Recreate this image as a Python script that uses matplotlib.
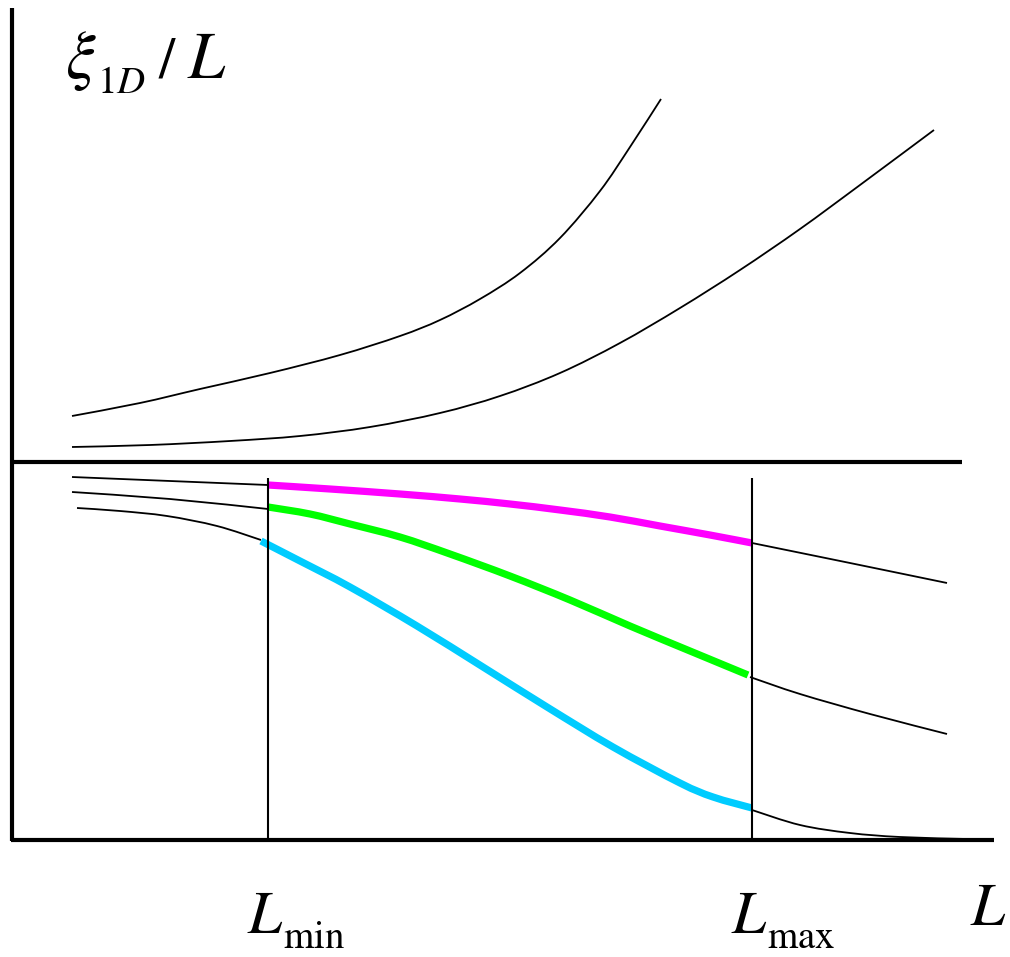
import matplotlib.pyplot as plt
import numpy as np
from matplotlib.path import Path
from matplotlib.patches import PathPatch

# schematic: xi_1D / L versus L (pixel-like units)
plt.rcParams["mathtext.fontset"] = "stix"

L_min = 268
L_max = 752

# upper branch (growing curves)
up1_x = [72, 140, 200, 270, 340, 400, 440, 480, 520, 560, 600, 630, 661]
up1_y = [416, 403, 389, 373, 355, 336, 320, 299, 273, 238, 191, 147, 99]
up2_x = [72, 150, 230, 300, 370, 440, 500, 560, 620, 680, 740, 800, 860, 934]
up2_y = [447, 445, 441, 436, 427, 413, 396, 373, 343, 308, 270, 229, 185, 130]

# lower branch, top curve (magenta in window)
lo1_pre_x = [72, 170, 268]
lo1_pre_y = [477, 481, 485]
lo1_x = [268, 330, 400, 460, 510, 560, 610, 660, 710, 752]
lo1_y = [485, 489, 494, 499, 504, 510, 517, 526, 535, 543]
lo1_post_x = [752, 850, 947]
lo1_post_y = [543, 563, 583]

# lower branch, middle curve (green in window)
lo2_pre_x = [72, 170, 268]
lo2_pre_y = [492, 499, 509]
lo2_x = [268, 310, 350, 400, 450, 510, 570, 630, 690, 748]
lo2_y = [507, 514, 524, 537, 554, 576, 600, 626, 651, 675]
lo2_post_x = [750, 800, 870, 947]
lo2_post_y = [677, 694, 714, 734]

# lower branch, bottom curve (cyan in window)
lo3_pre_x = [77, 120, 167, 217, 261]
lo3_pre_y = [508, 511, 516, 526, 540]
lo3_x = [261, 300, 350, 417, 483, 547, 613, 680, 713, 752]
lo3_y = [541, 561, 587, 626, 667, 707, 747, 783, 797, 808]
lo3_post_x = [752, 800, 850, 900, 967]
lo3_post_y = [810, 825, 833, 837, 839]


def smooth(ax, xs, ys, color, lw):
    # catmull-rom through the points, drawn as bezier path
    pts = np.column_stack([xs, ys]).astype(float)
    p = np.vstack([pts[0], pts, pts[-1]])
    verts = [pts[0]]
    codes = [Path.MOVETO]
    for i in range(1, len(p) - 2):
        p0, p1, p2, p3 = p[i - 1], p[i], p[i + 1], p[i + 2]
        verts += [p1 + (p2 - p0) / 6, p2 - (p3 - p1) / 6, p2]
        codes += [Path.CURVE4] * 3
    ax.add_patch(PathPatch(Path(verts, codes), fill=False, edgecolor=color,
                           lw=lw, capstyle="butt", joinstyle="round"))


fig = plt.figure(figsize=(10.1, 9.57), dpi=100)
ax = fig.add_axes([0, 0, 1, 1])
ax.set_xlim(0, 1010)
ax.set_ylim(957, 0)
ax.axis("off")

# frame
ax.plot([12, 12], [8, 841], color="black", lw=3, solid_capstyle="butt")
ax.plot([11, 994], [840, 840], color="black", lw=3, solid_capstyle="butt")
ax.plot([11, 962], [462, 462], color="black", lw=3, solid_capstyle="butt")
ax.plot([L_min, L_min], [478, 840], color="black", lw=1.5, solid_capstyle="butt")
ax.plot([L_max, L_max], [478, 840], color="black", lw=1.5, solid_capstyle="butt")

smooth(ax, up1_x, up1_y, "black", 1.3)
smooth(ax, up2_x, up2_y, "black", 1.3)

for px, py in [(lo1_pre_x, lo1_pre_y), (lo1_post_x, lo1_post_y),
               (lo2_pre_x, lo2_pre_y), (lo2_post_x, lo2_post_y),
               (lo3_pre_x, lo3_pre_y), (lo3_post_x, lo3_post_y)]:
    smooth(ax, px, py, "black", 1.3)

smooth(ax, lo1_x, lo1_y, "#ff00ff", 5.2)
smooth(ax, lo2_x, lo2_y, "#00ff00", 5.2)
smooth(ax, lo3_x, lo3_y, "#00ccff", 5.2)

# labels
ax.text(65, 78, r"$\xi$", fontsize=48, ha="left", va="baseline")
ax.text(97, 93, r"$1D$", fontsize=28, ha="left", va="baseline")
ax.text(158, 78, r"$/$", fontsize=42, ha="left", va="baseline")
ax.text(187, 78, r"$L$", fontsize=48, ha="left", va="baseline")

ax.text(247, 933, r"$L$", fontsize=44, ha="left", va="baseline")
ax.text(283, 948, r"$\mathrm{min}$", fontsize=28, ha="left", va="baseline")
ax.text(731, 933, r"$L$", fontsize=44, ha="left", va="baseline")
ax.text(767, 948, r"$\mathrm{max}$", fontsize=28, ha="left", va="baseline")
ax.text(970, 925, r"$L$", fontsize=44, ha="left", va="baseline")

fig.savefig("out.png", dpi=100)
